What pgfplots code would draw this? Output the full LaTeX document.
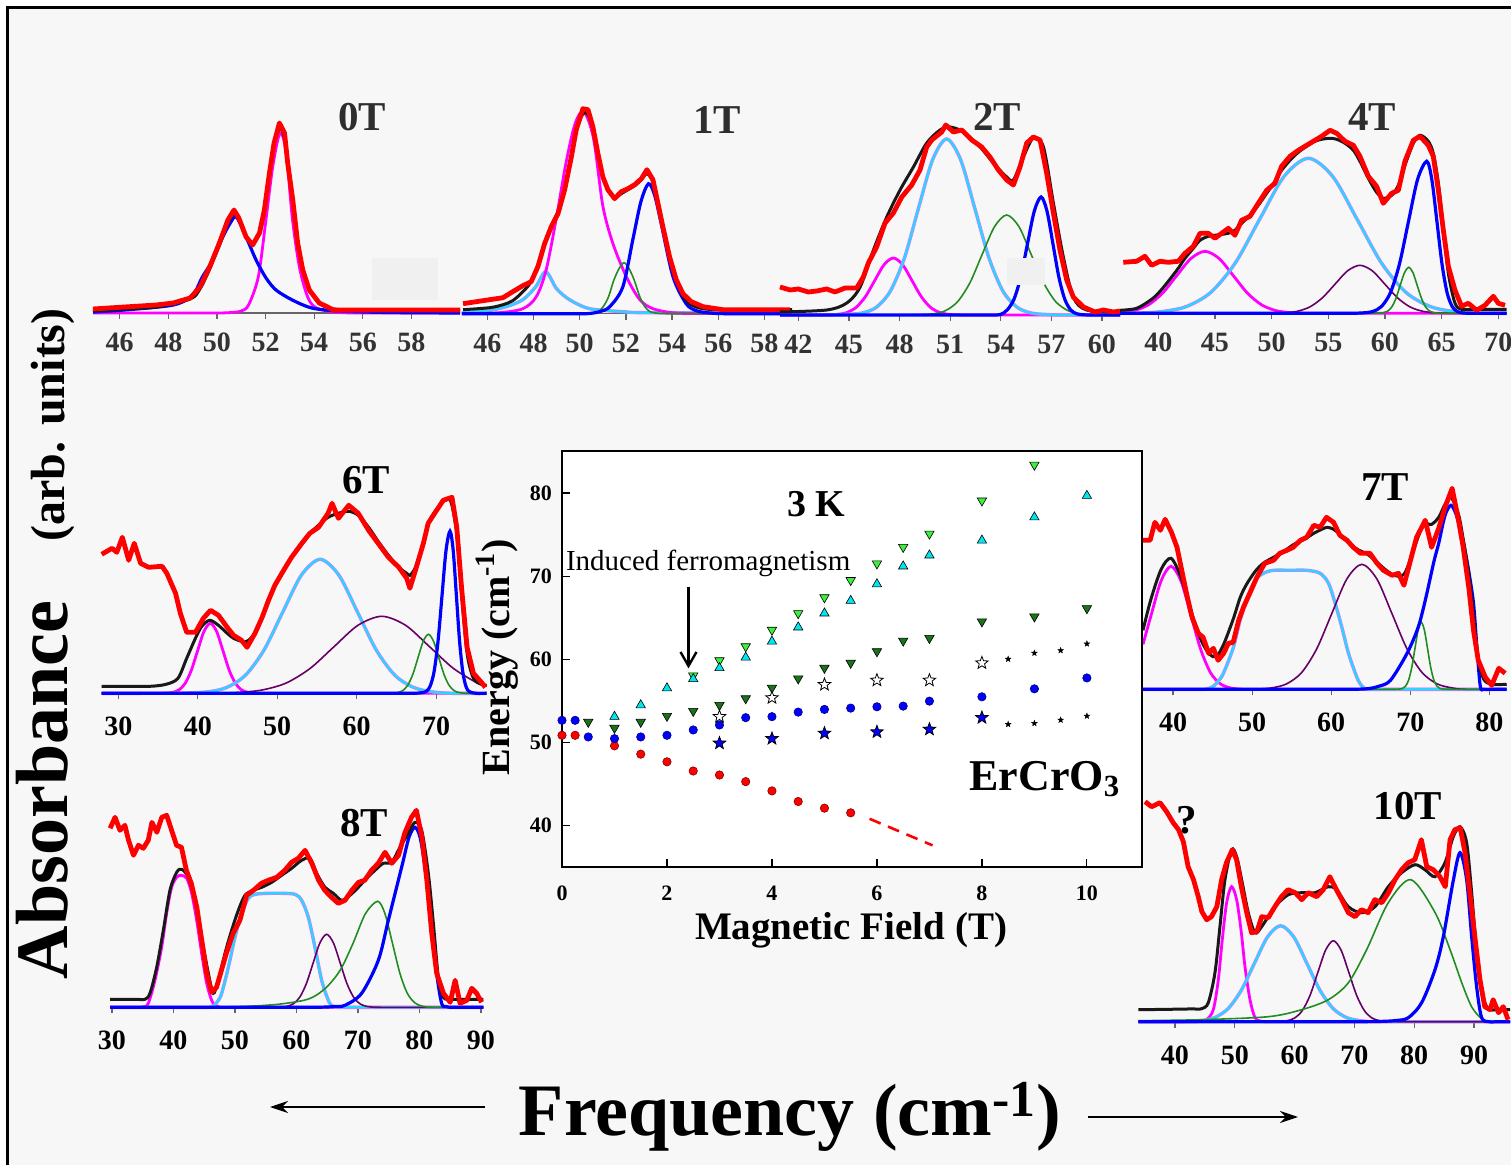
\documentclass[border=0pt]{standalone}
\usepackage{fontspec}
\setmainfont{Liberation Serif}
\usepackage{pgfplots}
\pgfplotsset{compat=1.18}
\usetikzlibrary{arrows.meta}

\definecolor{bg}{RGB}{247,247,247}
\definecolor{patch}{RGB}{240,240,240}
\definecolor{fgreen}{RGB}{34,139,34}
\definecolor{lgreen}{RGB}{60,240,60}
\definecolor{dgreen}{RGB}{25,115,25}
\definecolor{mag}{RGB}{255,0,255}
\definecolor{cya}{RGB}{40,215,255}
\definecolor{cyaedge}{RGB}{215,120,255}
\definecolor{cyatri}{RGB}{0,230,240}

% five-pointed star mark
\pgfdeclareplotmark{fstar}{%
  \pgfpathmoveto{\pgfpointpolar{90}{\pgfplotmarksize}}%
  \pgfpathlineto{\pgfpointpolar{126}{0.42\pgfplotmarksize}}%
  \pgfpathlineto{\pgfpointpolar{162}{\pgfplotmarksize}}%
  \pgfpathlineto{\pgfpointpolar{198}{0.42\pgfplotmarksize}}%
  \pgfpathlineto{\pgfpointpolar{234}{\pgfplotmarksize}}%
  \pgfpathlineto{\pgfpointpolar{270}{0.42\pgfplotmarksize}}%
  \pgfpathlineto{\pgfpointpolar{306}{\pgfplotmarksize}}%
  \pgfpathlineto{\pgfpointpolar{342}{0.42\pgfplotmarksize}}%
  \pgfpathlineto{\pgfpointpolar{18}{\pgfplotmarksize}}%
  \pgfpathlineto{\pgfpointpolar{54}{0.42\pgfplotmarksize}}%
  \pgfpathclose\pgfusepathqfillstroke}

\pgfplotsset{
  spec/.style={anchor=south west, scale only axis, width=#1, height=100pt,
    ymin=0, ymax=200, clip=false,
    axis x line=bottom, axis y line=none,
    axis line style={-, black!60, line width=0.7pt},
    tick align=outside, major tick length=3pt,
    tick style={black!60, line width=0.6pt},
    xticklabel shift=3.5pt,
    xticklabel style={font=\bfseries\fontsize{14}{14}\selectfont},
    /pgf/number format/assume math mode=true},
  dat/.style={red, line width=2.4pt, line join=round},
  tot/.style={black!90, line width=1.5pt, smooth},
  cmag/.style={mag, line width=1.4pt, smooth},
  cblu/.style={blue, line width=1.6pt, smooth},
  cgrn/.style={fgreen, line width=0.8pt, smooth},
  cpur/.style={violet!80!black, line width=0.8pt, smooth},
  ccya/.style={draw=cyaedge, double=cya, double distance=1.1pt, line width=0.3pt, smooth},
}
\tikzset{plab/.style={font=\bfseries\fontsize{20.5}{22}\selectfont}}

\begin{document}
\begin{tikzpicture}
\useasboundingbox (0,0) rectangle (755.5pt,-582.5pt);
\fill[white] (0,0) rectangle (755.5pt,-582.5pt);
\fill[bg] (3.75pt,-3.75pt) rectangle (755.5pt,-582.5pt);
\draw[line width=1.1pt] (3.75pt,-582.5pt) -- (3.75pt,-3.75pt) -- (755.5pt,-3.75pt);

% ---------------- 0T ----------------
\begin{axis}[spec=183.5pt, at={(46.5pt,-156.5pt)}, xmin=44.9, xmax=60.0,
  xtick={46,48,...,58}, xticklabel style={text=black!80}]
\addplot[cmag] coordinates {(44.9,0)(48,0)(50.0,0)(50.6,0.5)(51.0,2)(51.3,8)(51.7,36)(52.0,90)(52.3,147)(52.6,180)(52.85,160)(53.1,95)(53.4,45)(53.75,15)(54.1,5)(54.8,1)(55.6,0)(57,0)(60,0)};
\addplot[cblu] coordinates {(44.9,1)(46.2,3)(48.2,8)(49.0,18)(49.4,36)(49.83,53)(50.24,76)(50.55,90)(50.8,96)(51.2,76)(51.61,53)(52.02,35)(52.43,23)(53.1,13)(53.9,5)(55,2)(57,0.5)(60,0)};
\addplot[tot] coordinates {(44.9,2)(46.2,4)(47.5,6)(48.9,14)(49.3,24)(49.7,44)(50.1,68)(50.45,90)(50.7,99)(50.9,93)(51.2,76)(51.5,70)(51.75,80)(51.95,100)(52.15,137)(52.35,168)(52.6,185)(52.8,172)(52.95,145)(53.12,110)(53.32,72)(53.53,45)(53.8,24)(54.2,10)(54.8,4)(56,3)(60,3)};
\addplot[dat] coordinates {(44.9,4)(46.2,6)(47.5,8)(48.2,10)(48.9,15)(49.3,26)(49.7,46)(50.1,70)(50.45,93)(50.7,103)(50.9,95)(51.2,76)(51.47,68)(51.75,80)(51.95,103)(52.16,140)(52.35,170)(52.57,190)(52.78,180)(52.91,150)(53.12,113)(53.32,70)(53.53,43)(53.8,23)(54.21,10)(54.8,3)(55.7,3)(60,3)};
\end{axis}

% ---------------- 1T ----------------
\begin{axis}[spec=165.15pt, at={(230.95pt,-156.85pt)}, xmin=44.9, xmax=59.2,
  xtick={46,48,...,58}, xticklabel style={text=black!80}]
\addplot[ccya] coordinates {(44.9,1)(46,3)(46.82,7)(47.54,14)(48.1,27)(48.53,42)(49.0,25)(49.56,14)(50.43,5)(51.87,2)(53,1)(59.2,1)};
\addplot[cmag] coordinates {(44.9,0)(46.5,1)(47.54,5)(48.12,17)(48.55,44)(49.0,97)(49.4,150)(49.8,190)(50.18,202)(50.6,175)(51.0,108)(51.44,70)(52.02,37)(52.6,14)(53.17,5)(54,1)(55,0.2)(59.2,0)};
\addplot[cgrn] coordinates {(44.9,0)(48,0)(49.6,0)(50.2,0)(50.55,0.7)(50.8,2)(51.02,7)(51.25,17)(51.47,33)(51.7,45)(51.92,51)(52.14,45)(52.37,33)(52.6,17)(52.82,7)(53.05,2)(53.35,0.5)(53.7,0)(54.5,0)(56.5,0)(59.2,0)};
\addplot[cblu] coordinates {(44.9,0)(47.5,0)(49.3,0)(50.3,0)(50.86,2)(51.3,7)(51.87,27)(52.3,74)(52.65,112)(52.98,130)(53.25,118)(53.53,90)(54.04,37)(54.61,10)(55.05,3)(55.6,0.8)(56.3,0)(57.5,0)(59.2,0)};
\addplot[tot] coordinates {(44.95,4)(46.1,6)(46.68,9)(47.1,13)(47.54,22)(47.9,32)(48.19,48)(48.48,70)(48.77,88)(49.06,102)(49.35,124)(49.64,155)(49.85,182)(50.14,200)(50.36,199)(50.57,185)(50.79,160)(51.0,138)(51.22,124)(51.51,116)(51.8,120)(52.09,124)(52.38,128)(52.67,134)(52.91,140)(53.17,132)(53.39,112)(53.6,88)(53.89,58)(54.18,34)(54.47,18)(54.83,9)(55.34,5)(56.2,4)(59.2,4)};
\addplot[dat] coordinates {(44.95,10)(45.52,12)(46.1,14)(46.68,16)(47.1,22)(47.54,28)(47.9,32)(48.19,47)(48.48,70)(48.77,87)(49.06,100)(49.35,124)(49.64,157)(49.85,184)(50.14,205)(50.36,204)(50.57,187)(50.79,160)(51.0,137)(51.22,124)(51.51,115)(51.8,122)(52.09,125)(52.38,129)(52.67,135)(52.91,144)(53.17,134)(53.39,110)(53.6,87)(53.89,57)(54.18,34)(54.47,20)(54.83,12)(55.34,7)(56.2,4)(57.65,4)(59.1,4)};
\end{axis}

% ---------------- 2T ----------------
\begin{axis}[spec=170pt, at={(390pt,-157.5pt)}, xmin=40.91, xmax=61.07,
  xtick={42,45,...,60}, xticklabel style={text=black!80}]
\addplot[cmag] coordinates {(40.91,0)(42.5,0)(43.7,0.1)(44.33,0.6)(44.88,2.5)(45.43,7.7)(45.98,18.5)(46.53,34.6)(47.08,50.3)(47.63,57)(48.18,50.3)(48.73,34.6)(49.28,18.5)(49.83,7.7)(50.38,2.5)(50.93,0.6)(51.6,0.1)(52.5,0)(55,0)(61.07,0)};
\addplot[ccya] coordinates {(40.91,0)(42.5,0)(44,0.2)(45,0.8)(45.78,2)(46.62,7.7)(47.45,23.8)(48.29,57.1)(49.12,106.7)(49.96,155.3)(50.79,176)(51.62,155.3)(52.46,106.7)(53.3,57.1)(54.13,23.8)(54.97,7.7)(55.8,2)(56.6,0.6)(57.5,0)(59,0)(61.07,0)};
\addplot[cgrn] coordinates {(40.91,0)(45,0)(47.5,0)(48.8,0.2)(50.0,1.1)(50.73,4.4)(51.45,13.5)(52.18,32.5)(52.9,60.7)(53.63,88.3)(54.35,100)(55.08,88.3)(55.8,60.7)(56.53,32.5)(57.25,13.5)(57.98,4.4)(58.7,1.1)(59.4,0.3)(60.1,0)(61.07,0)};
\addplot[cblu] coordinates {(40.91,0)(47,0)(51,0)(52.8,0)(53.5,0)(53.99,0.5)(54.39,5.2)(54.79,16)(55.19,38.3)(55.59,71.6)(55.99,104)(56.39,118)(56.74,104)(57.09,71.6)(57.44,38.3)(57.79,16)(58.14,5.2)(58.49,1.3)(58.9,0.2)(59.4,0)(60.2,0)(61.07,0)};
\addplot[tot] coordinates {(40.91,3)(43.68,5)(44.87,12)(45.66,28)(46.45,65)(47.24,98)(48.03,125)(48.82,148)(49.61,172)(50.4,185)(50.99,188)(51.78,183)(52.77,168)(53.56,152)(54.35,138)(54.75,135)(55.34,158)(55.93,177)(56.53,168)(57.12,112)(57.71,58)(58.3,18)(59.09,5)(61.07,3)};
\addplot[dat] coordinates {(40.91,28)(41.51,25)(42.0,26)(42.59,23)(43.09,24)(43.68,26)(44.17,23)(44.77,27)(45.46,27)(45.85,38)(46.15,52)(46.64,68)(47.14,92)(47.63,102)(48.13,118)(48.72,130)(49.21,145)(49.61,168)(49.91,175)(50.5,183)(50.74,190)(51.19,183)(51.68,185)(52.28,175)(52.87,168)(53.36,158)(53.86,145)(54.35,135)(54.75,130)(55.14,148)(55.54,172)(55.93,178)(56.33,175)(56.72,142)(57.12,102)(57.51,65)(57.91,35)(58.3,18)(58.9,8)(59.59,3)(60.08,5)(60.68,3)(61.07,4)};
\end{axis}

% ---------------- 4T ----------------
\begin{axis}[spec=193.35pt, at={(560pt,-156.65pt)}, xmin=36.62, xmax=70.74,
  xtick={40,45,...,70}, xticklabel style={text=black!80}]
\addplot[cmag] coordinates {(36.62,0.7)(37.87,2.7)(39.12,8.4)(40.37,20.1)(41.62,37.6)(42.87,54.7)(44.12,62)(45.37,54.7)(46.62,37.6)(47.87,20.1)(49.12,8.4)(50.37,2.7)(51.62,0.7)(52.9,0.1)(54.5,0)(58,0)(63,0)(70.74,0)};
\addplot[ccya] coordinates {(36.62,0)(38.5,0.3)(40.34,1.7)(42.49,6.8)(44.64,21)(46.79,50.3)(48.94,94)(51.09,136.8)(53.24,155)(55.39,136.8)(57.54,94)(59.69,50.3)(61.84,21)(63.99,6.8)(66.14,1.7)(68.5,0)(70.74,0)};
\addplot[cpur] coordinates {(36.62,0)(44,0)(47.5,0)(49.5,0)(51.19,0.5)(52.29,2.1)(53.39,6.5)(54.49,15.6)(55.59,29.1)(56.69,42.4)(57.79,48)(58.89,42.4)(59.99,29.1)(61.09,15.6)(62.19,6.5)(63.29,2.1)(64.39,0.5)(65.5,0)(67.5,0)(70.74,0)};
\addplot[cgrn] coordinates {(36.62,0)(50,0)(56,0)(58.2,0)(59.2,0.1)(59.84,0.5)(60.22,2)(60.59,6.2)(60.97,15)(61.34,27.9)(61.72,40.6)(62.09,46)(62.47,40.6)(62.84,27.9)(63.22,15)(63.59,6.2)(63.97,2)(64.34,0.5)(64.9,0.1)(65.8,0)(67.5,0)(70.74,0)};
\addplot[cblu] coordinates {(36.62,0)(48,0)(54,0)(56.5,0)(57.9,0.3)(58.88,1.7)(59.68,6.7)(60.48,20.6)(61.28,49.4)(62.08,92.2)(62.88,134)(63.68,152)(64.13,134)(64.58,92.2)(65.03,49.4)(65.48,20.6)(65.93,6.7)(66.38,1.7)(66.9,0.3)(67.6,0)(69,0)(70.74,0)};
\addplot[tot] coordinates {(36.62,3)(38.09,5)(39.41,14)(40.15,22)(40.88,32)(41.76,45)(42.35,55)(43.09,65)(43.68,73)(44.41,77)(45.0,78)(45.59,79)(46.18,80)(46.76,83)(47.35,90)(48.09,98)(48.82,108)(49.56,120)(50.29,132)(50.88,143)(51.62,153)(52.35,161)(53.09,167)(53.82,172)(54.41,174)(55.15,175)(55.74,174)(56.47,170)(57.21,163)(57.79,152)(58.53,135)(59.26,121)(59.85,115)(60.59,118)(61.18,128)(61.76,148)(62.5,170)(63.09,178)(63.82,172)(64.26,160)(64.71,130)(65.15,85)(65.59,40)(66.18,10)(66.76,4)(68,4)(70.74,4)};
\addplot[dat] coordinates {(36.91,51)(38.09,52)(38.82,57)(39.41,48)(40.15,52)(40.88,51)(41.76,52)(42.35,60)(43.09,67)(43.68,80)(44.41,80)(45.0,75)(45.59,80)(46.18,85)(46.76,78)(47.35,93)(48.09,97)(48.82,110)(49.56,123)(50.29,130)(50.88,147)(51.62,157)(52.35,163)(53.09,168)(53.82,173)(54.41,177)(55.15,183)(55.74,180)(56.47,172)(57.21,168)(57.79,157)(58.53,137)(59.26,127)(59.85,110)(60.59,120)(61.18,123)(61.76,152)(62.5,173)(63.09,177)(63.82,168)(64.26,157)(64.71,123)(65.15,83)(65.59,47)(66.18,23)(66.76,7)(67.35,10)(68.09,3)(68.82,8)(69.56,17)(70.0,10)(70.59,8)};
\end{axis}

% ---------------- 6T ----------------
\begin{axis}[spec=192.5pt, at={(50.85pt,-346.65pt)}, xmin=27.9, xmax=76.37,
  xtick={30,40,...,70}, xticklabel shift=5.5pt]
\addplot[cmag] coordinates {(27.9,0)(32,0)(34.5,0)(35.8,0.2)(36.77,0.8)(37.57,3.1)(38.37,9.5)(39.17,22.7)(39.97,42.5)(40.77,61.8)(41.57,70)(42.37,61.8)(43.17,42.5)(43.97,22.7)(44.77,9.5)(45.57,3.1)(46.37,0.8)(47.3,0.2)(48.5,0)(51,0)(56,0)(76.37,0)};
\addplot[ccya] coordinates {(27.9,0)(33,0)(38,0.2)(41.3,1.5)(43.65,5.9)(46.0,18.1)(48.35,43.5)(50.7,81.3)(53.05,118.3)(55.4,134)(57.75,118.3)(60.1,81.3)(62.45,43.5)(64.8,18.1)(67.15,5.9)(69.5,1.5)(72,0)(76.37,0)};
\addplot[cpur] coordinates {(27.9,0)(36,0)(42,0.2)(45.16,0.9)(48.16,3.4)(51.16,10.4)(54.16,25)(57.16,46.7)(60.16,68)(63.16,77)(66.16,68)(69.16,46.7)(72.16,25)(75.16,10.4)(76.37,7.5)};
\addplot[cgrn] coordinates {(27.9,0)(50,0)(58,0)(62,0)(64.2,0.1)(65.13,0.7)(65.78,2.6)(66.43,8)(67.08,19.2)(67.73,35.8)(68.38,52)(69.03,59)(69.68,52)(70.33,35.8)(70.98,19.2)(71.63,8)(72.28,2.6)(72.93,0.7)(74,0)(76.37,0)};
\addplot[cblu] coordinates {(27.9,0)(50,0)(60,0)(64.5,0)(67,0)(68.1,0.5)(68.75,1.8)(69.25,7.1)(69.75,21.9)(70.25,52.6)(70.75,98.3)(71.25,143)(71.75,162)(72.15,143)(72.55,98.3)(72.95,52.6)(73.35,21.9)(73.75,7.1)(74.15,1.8)(75,0)(76.37,0)};
\addplot[tot] coordinates {(27.9,7)(31,7)(34,7)(36,9)(37.5,15)(38.6,35)(39.7,55)(40.5,67)(41.5,73)(42.6,68)(43.7,60)(44.5,55)(45.5,52)(46.2,52)(47.2,60)(48.1,76)(48.9,92)(49.7,108)(50.8,122)(51.8,136)(53.1,150)(54.1,160)(55.2,168)(56.4,176)(57.7,180)(59.0,182)(60.2,178)(61.5,166)(62.7,152)(64.0,138)(65.3,126)(66.3,120)(66.7,118)(67.4,126)(68.4,150)(69.0,170)(69.9,182)(70.9,192)(71.8,193)(72.6,160)(73.2,100)(73.9,40)(74.7,15)(75.7,9)(76.37,8)};
\addplot[dat] coordinates {(27.9,139)(29.2,145)(29.8,141)(30.5,156)(31.3,133)(32.0,150)(32.8,130)(33.8,126)(35.5,127)(36.1,120)(37.2,100)(37.8,80)(38.6,61)(39.7,61)(40.7,75)(41.6,83)(42.6,78)(43.7,66)(44.5,58)(45.5,53)(46.2,46)(47.2,60)(48.1,76)(48.9,93)(49.7,108)(50.8,123)(51.8,136)(53.1,150)(54.1,160)(55.2,166)(56.4,180)(56.9,190)(57.7,175)(59.0,188)(60.2,180)(61.5,163)(62.7,150)(64.0,136)(65.3,126)(66.3,115)(66.7,105)(67.4,123)(68.4,150)(69.0,170)(69.9,181)(70.9,193)(72.0,196)(72.6,166)(73.2,106)(73.9,46)(74.7,20)(75.7,11)(76.2,6)};
\end{axis}

% ---------------- 7T ----------------
\begin{axis}[spec=181.85pt, at={(571.5pt,-344.65pt)}, xmin=36.2, xmax=82.2,
  xtick={40,50,...,80}, xticklabel shift=5.5pt]
\addplot[cmag] coordinates {(36.2,45)(37.24,74.6)(38.49,108.5)(39.74,123)(40.99,108.5)(42.24,74.6)(43.49,40)(44.74,16.6)(45.99,5.4)(47.24,1.4)(48.5,0.2)(50,0)(55,0)(82.2,0)};
\addplot[ccya] coordinates {(36.2,0)(40,0)(42.5,0)(44.0,0)(44.9,2)(45.6,7)(46.37,16)(47.63,42)(48.48,69)(49.32,89)(50.38,109)(51.43,116)(52.7,119)(54.81,119)(56.92,119)(58.6,116)(59.66,106)(60.5,86)(61.35,62)(62.19,36)(63.25,12)(63.9,3)(64.6,0)(65.8,0)(70,0)(82.2,0)};
\addplot[cpur] coordinates {(36.2,0)(44,0)(48,0)(50.5,0.2)(52.48,1.4)(54.38,5.5)(56.28,16.9)(58.18,40.6)(60.08,75.8)(61.98,110.3)(63.88,125)(65.78,110.3)(67.68,75.8)(69.58,40.6)(71.48,16.9)(73.38,5.5)(75.28,1.4)(77,0)(82.2,0)};
\addplot[cgrn] coordinates {(36.2,0)(55,0)(63,0)(66.5,0)(68.2,0.1)(69.0,0.7)(69.39,3)(69.79,9.1)(70.19,21.8)(70.59,40.6)(70.99,59.1)(71.39,67)(71.79,59.1)(72.19,40.6)(72.59,21.8)(72.99,9.1)(73.39,3)(73.79,0.7)(74.5,0.1)(75.5,0)(77.5,0)(82.2,0)};
\addplot[cblu] coordinates {(36.2,0)(50,0)(58,0)(62,0)(64.5,0.5)(66,3)(67.5,9)(69.6,36)(71.0,62)(71.9,89)(73.0,128)(73.6,146)(74.4,174)(75.15,184)(75.8,175)(76.4,158)(76.75,146)(77.38,119)(78.0,86)(78.43,42)(78.86,3)(79.3,0)(80.2,0)(82.2,0)};
\addplot[tot] coordinates {(36.2,59)(37.2,90)(38.5,120)(39.74,131)(41.0,112)(42.2,80)(43.5,50)(44.6,35)(45.5,33)(46.4,45)(47.6,70)(48.5,92)(49.3,105)(50.4,118)(51.4,126)(52.7,132)(54.0,138)(55.3,145)(56.6,150)(57.8,156)(58.8,160)(59.5,162)(60.3,160)(61.1,155)(62.0,148)(63.3,140)(64.6,135)(65.8,127)(66.8,120)(67.7,115)(68.5,113)(69.2,115)(69.8,125)(70.8,148)(71.7,165)(72.7,165)(73.6,172)(74.4,185)(75.15,192)(76.1,175)(76.7,150)(77.4,115)(78.0,75)(78.6,30)(79.3,10)(80.3,5)(82.2,5)};
\addplot[dat] coordinates {(36.2,149)(37.1,149)(37.7,167)(38.4,159)(39.0,170)(39.8,157)(40.5,142)(41.1,119)(41.7,96)(42.4,72)(43.2,56)(43.8,52)(44.5,36)(45.1,41)(45.7,29)(46.4,36)(47.0,46)(47.6,47)(48.3,69)(48.9,82)(49.7,96)(50.6,112)(51.6,126)(52.7,129)(53.5,136)(54.4,139)(55.2,142)(56.1,149)(56.9,152)(57.8,164)(58.6,162)(59.4,172)(60.3,167)(61.1,154)(62.0,149)(62.8,142)(63.7,136)(64.9,136)(65.8,126)(66.6,119)(67.7,114)(68.5,116)(69.2,104)(69.8,122)(70.8,152)(71.9,169)(72.7,142)(73.6,161)(74.4,182)(75.3,201)(76.1,169)(76.7,142)(77.4,102)(78.0,59)(78.6,29)(79.5,12)(80.3,4)(81.2,21)(82.0,16)};
\end{axis}

% ---------------- 8T ----------------
\begin{axis}[spec=186.65pt, at={(55pt,-503.65pt)}, xmin=29.68, xmax=90.38,
  xtick={30,40,...,90}, xticklabel shift=5.5pt]
\addplot[cmag] coordinates {(29.68,0)(32.5,0)(34.2,0)(35.1,0.5)(35.91,4)(36.99,27)(38.08,60)(38.89,94)(39.7,120)(40.52,130)(41.22,132)(42.15,129)(42.96,114)(43.77,87)(44.58,54)(45.4,24)(46.21,7)(46.75,2)(47.4,0.3)(48.2,0)(50,0)(55,0)(90.38,0)};
\addplot[ccya] coordinates {(29.68,0)(40,0)(44,0)(45.8,0)(46.6,2)(47.3,7)(47.84,14)(48.92,40)(50.0,70)(51.09,94)(52.17,109)(53.26,113)(55.42,114)(57.59,114)(59.76,113)(60.84,107)(61.93,90)(63.01,60)(64.1,27)(65.18,7)(65.8,1.5)(66.5,0)(67.5,0)(72,0)(90.38,0)};
\addplot[cpur] coordinates {(29.68,0)(45,0)(52,0)(55.5,0)(57.2,0.2)(58.31,0.8)(59.41,3.2)(60.51,9.9)(61.61,23.7)(62.71,44.3)(63.81,64.4)(64.91,73)(66.01,64.4)(67.11,44.3)(68.21,23.7)(69.31,9.9)(70.41,3.2)(71.51,0.8)(72.7,0.1)(74,0)(78,0)(90.38,0)};
\addplot[cgrn] coordinates {(29.68,0)(40,0)(45,0)(52,1)(57,3)(61.2,7)(63.2,12)(65.2,22)(67.2,38)(69.2,64)(71.2,93.5)(73.2,106)(74.4,93.5)(75.6,64.3)(76.8,34.4)(78.0,14.3)(79.2,4.7)(80.4,1.2)(82,0)(85,0)(90.38,0)};
\addplot[cblu] coordinates {(29.68,0)(50,0)(58,0)(62,0)(64.5,0.2)(66.3,0.8)(67.89,2)(70.6,14)(73.31,47)(74.94,87)(77.1,140)(78.3,170)(79.27,180)(80.1,170)(80.9,140)(81.98,87)(82.8,34)(83.6,4)(84.3,0.8)(85.1,0)(86.5,0)(90.38,0)};
\addplot[tot] coordinates {(29.68,8)(32,8)(34,8)(35.37,8)(36.18,14)(37.27,40)(38.35,77)(39.43,117)(40.52,135)(41.33,138)(42.42,130)(43.5,107)(44.58,70)(45.67,34)(46.48,14)(47.29,27)(48.38,54)(49.46,77)(50.55,97)(51.63,112)(52.99,117)(54.34,120)(55.97,125)(57.59,132)(59.22,139)(60.84,147)(62.2,149)(63.28,134)(64.64,120)(65.99,114)(67.35,107)(68.7,112)(70.06,120)(71.41,129)(72.77,137)(74.12,144)(75.48,145)(76.83,160)(78.19,174)(79.27,185)(80.36,177)(81.44,134)(82.26,84)(83.07,30)(83.88,10)(85.23,8)(87,8)(90.38,8)};
\addplot[dat] coordinates {(29.7,179)(30.5,190)(31.3,177)(32.1,182)(32.7,167)(33.5,152)(34.3,162)(35.1,159)(35.9,167)(36.5,185)(37.3,175)(38.1,190)(38.9,192)(39.7,177)(40.5,162)(41.3,160)(42.1,137)(42.9,124)(43.8,100)(44.6,67)(45.4,34)(46.2,15)(47.0,20)(47.8,37)(48.6,54)(49.7,74)(50.8,87)(51.9,112)(53.0,117)(54.3,124)(55.4,127)(56.8,130)(58.1,137)(59.2,145)(60.3,149)(61.4,157)(62.5,144)(63.6,127)(64.6,117)(65.7,110)(66.8,104)(67.9,107)(69.0,117)(70.1,125)(71.1,127)(72.2,137)(73.3,144)(74.4,155)(75.5,144)(76.6,152)(77.6,174)(78.7,190)(79.5,197)(80.4,170)(81.2,127)(82.0,74)(82.8,34)(83.9,14)(85.0,5)(85.8,27)(86.6,4)(87.7,7)(88.5,19)(89.3,14)(90.1,5)};
\end{axis}

% ---------------- 10T ----------------
\begin{axis}[spec=185.85pt, at={(569.15pt,-510.85pt)}, xmin=33.87, xmax=96.02,
  xtick={40,50,...,90}, xticklabel shift=5.5pt]
\addplot[cmag] coordinates {(33.87,0)(38,0)(41,0)(43,0)(44.3,0.3)(45.3,2)(46.41,12)(47.25,42)(47.91,82)(48.64,119)(49.47,135)(50.31,122)(51.04,92)(51.71,55)(52.54,22)(53.38,4)(54.2,0.8)(55.1,0)(57,0)(62,0)(96.02,0)};
\addplot[ccya] coordinates {(33.87,0)(38,0)(42,0.2)(44.47,1.1)(46.67,4.2)(48.87,13)(51.07,31.2)(53.27,58.2)(55.47,84.7)(57.67,96)(59.87,84.7)(62.07,58.2)(64.27,31.2)(66.47,13)(68.67,4.2)(70.87,1.1)(73,0)(76,0)(82,0)(96.02,0)};
\addplot[cpur] coordinates {(33.87,0)(45,0)(51,0)(54.5,0)(56.8,0.2)(58.68,0.9)(59.98,3.6)(61.28,11)(62.58,26.3)(63.88,49.1)(65.18,71.5)(66.48,81)(67.78,71.5)(69.08,49.1)(70.38,26.3)(71.68,11)(72.98,3.6)(74.28,0.9)(75.8,0.1)(77.5,0)(82,0)(96.02,0)};
\addplot[cgrn] coordinates {(33.87,1)(44.4,2)(55.6,5)(61.18,12)(65.64,22)(69.0,39)(72.05,72)(75.67,119)(79.46,142)(83.5,109)(86.0,72)(87.95,39)(89.6,15)(91.3,3)(93,0)(96.02,0)};
\addplot[cblu] coordinates {(33.87,0)(55,0)(65,0)(71,0)(74.5,0.3)(77,1.2)(79.02,4)(81.25,19)(83.48,52)(84.87,85)(86.5,140)(87.66,169)(88.77,142)(89.61,85)(90.44,35)(91.28,4)(92.5,0)(94,0)(96.02,0)};
\addplot[tot] coordinates {(33.87,12)(38,12.3)(41,12.6)(43,12.8)(44.46,13)(45.57,19)(46.69,49)(47.52,95)(48.36,142)(49.47,172)(50.31,165)(51.15,142)(52.26,109)(53.38,89)(54.49,95)(56.72,115)(58.95,127)(61.18,129)(63.41,129)(65.64,135)(67.03,132)(68.98,115)(71.21,109)(73.44,115)(75.67,135)(77.9,149)(80.13,157)(81.8,152)(83.48,145)(85.15,159)(86.54,185)(87.66,195)(88.77,179)(89.61,129)(90.44,69)(91.28,29)(92.4,13)(94,12)(96.02,12)};
\addplot[dat] coordinates {(35.0,220)(36.1,215)(37.5,219)(38.6,210)(39.7,199)(40.6,192)(41.4,180)(42.2,155)(43.1,142)(43.9,125)(44.5,110)(45.3,102)(46.1,105)(47.0,115)(47.8,142)(48.6,159)(49.6,172)(50.3,162)(51.1,135)(52.0,109)(52.8,89)(53.7,90)(54.5,105)(55.6,104)(56.7,115)(57.8,125)(58.9,132)(60.1,129)(61.2,122)(62.3,129)(63.7,125)(64.8,132)(65.9,145)(67.0,132)(67.9,122)(69.0,109)(70.1,105)(71.2,112)(72.3,109)(73.4,122)(74.6,119)(75.7,129)(76.8,142)(77.9,152)(79.0,159)(80.1,162)(81.2,182)(82.1,155)(83.2,152)(84.3,145)(85.2,135)(86.0,182)(86.8,192)(87.7,194)(88.5,169)(89.3,129)(90.2,82)(91.0,42)(91.8,15)(92.7,12)(93.2,22)(94.1,9)(94.9,15)(95.7,2)};
\end{axis}

% ---------------- inset ----------------
\begin{axis}[anchor=south west, at={(281pt,-433.5pt)}, scale only axis,
  width=290pt, height=208pt, xmin=0, xmax=11.05, ymin=35, ymax=85.06,
  clip=false, axis background/.style={fill=white},
  axis line style={line width=0.8pt},
  xtick={0,2,...,10}, ytick={40,50,...,80},
  xtick pos=left, ytick pos=left, tick align=inside,
  major tick length=4pt, tick style={black, line width=0.6pt},
  xticklabel shift=6pt, yticklabel shift=1.5pt,
  ticklabel style={font=\bfseries\fontsize{11}{11}\selectfont},
  /pgf/number format/assume math mode=true]
\addplot[red, line width=1.3pt, dash pattern=on 6pt off 4pt] coordinates {(5.86,40.8)(7.06,37.6)};
\addplot[only marks, mark=*, mark size=2.1pt, mark options={fill=red, draw=red!50!black, line width=0.3pt}]
  coordinates {(0,50.85)(0.25,50.85)(1,49.58)(1.5,48.58)(2,47.66)(2.5,46.55)(3,46.07)(3.5,45.27)(4,44.16)(4.5,42.88)(5,42.08)(5.5,41.52)};
\addplot[only marks, mark=*, mark size=2.1pt, mark options={fill=blue, draw=blue!50!black, line width=0.3pt}]
  coordinates {(0,52.65)(0.25,52.65)(0.5,50.65)(1,50.45)(1.5,50.65)(2,50.85)(2.5,51.49)(3,52.09)(3.5,52.97)(4,53.09)(4.5,53.64)(5,53.96)(5.5,54.12)(6,54.28)(6.5,54.36)(7,54.96)(8,55.48)(9,56.44)(10,57.75)};
\addplot[only marks, mark=triangle*, mark size=2.7pt, mark options={rotate=180, fill=dgreen, draw=black, line width=0.3pt}]
  coordinates {(0.5,52.45)(1,51.73)(1.5,52.45)(2,53.17)(2.5,53.76)(3,54.48)(3.5,55.28)(4,56.56)(4.5,57.67)(5,58.95)(5.5,59.55)(6,60.94)(6.5,62.22)(7,62.54)(8,64.53)(9,65.13)(10,66.12)};
\addplot[only marks, mark=triangle*, mark size=2.7pt, mark options={rotate=180, fill=lgreen, draw=black, line width=0.3pt}]
  coordinates {(2.5,58.03)(3,59.86)(3.5,61.54)(4,63.53)(4.5,65.53)(5,67.44)(5.5,69.51)(6,71.51)(6.5,73.5)(7,75.1)(8,79.08)(9,83.39)};
\addplot[only marks, mark=triangle*, mark size=2.7pt, mark options={fill=cyatri, draw=black, line width=0.3pt}]
  coordinates {(1,53.09)(1.5,54.48)(2,56.52)(2.5,57.63)(3,58.95)(3.5,60.22)(4,62.14)(4.5,63.85)(5,65.53)(5.5,67.04)(6,69.04)(6.5,71.19)(7,72.51)(8,74.3)(9,77.09)(10,79.68)};
\addplot[only marks, mark=fstar, mark size=3.3pt, mark options={fill=white, draw=black, line width=0.4pt}]
  coordinates {(3,53.09)(4,55.36)(5,56.95)(6,57.47)(7,57.47)(8,59.55)};
\addplot[only marks, mark=fstar, mark size=3.3pt, mark options={fill=blue, draw=black, line width=0.4pt}]
  coordinates {(3,49.9)(4,50.45)(5,51.09)(6,51.25)(7,51.57)(8,52.97)};
\addplot[only marks, mark=fstar, mark size=1.5pt, mark options={fill=black, draw=black, line width=0.2pt}]
  coordinates {(8.5,60.02)(9,60.74)(9.5,61.06)(10,61.86)(8.5,52.17)(9,52.29)(9.5,52.69)(10,53.17)};
\node[font=\bfseries\fontsize{19}{20}\selectfont] at (axis cs:4.84,78.7) {3 K};
\node[anchor=west, font=\fontsize{14.5}{16}\selectfont, inner sep=0pt] at (axis cs:0.07,71.54) {Induced ferromagnetism};
\draw[-{Straight Barb[length=7pt,width=8pt]}, line width=1.2pt] (axis cs:2.41,68.7) -- (axis cs:2.41,58.9);
\node[font=\bfseries\fontsize{22}{24}\selectfont] at (axis cs:9.2,45.6) {ErCrO\textsubscript{3}};
\end{axis}

% inset axis labels
\node[font=\bfseries\fontsize{19.5}{22}\selectfont] at (425.5pt,-465pt) {Magnetic Field (T)};
\node[rotate=90, font=\bfseries\fontsize{20}{22}\selectfont] at (248.5pt,-328.5pt) {Energy (cm\textsuperscript{-1})};

% small grey patches
\fill[patch] (186pt,-129pt) rectangle (219pt,-150pt);
\fill[patch] (503.5pt,-129pt) rectangle (522.5pt,-142.5pt);

% panel labels
\node[plab, text=black!82] at (181pt,-58.5pt) {0T};
\node[plab, text=black!82] at (358.5pt,-60pt) {1T};
\node[plab, text=black!82] at (498.5pt,-58.5pt) {2T};
\node[plab, text=black!82] at (686pt,-58.5pt) {4T};
\node[plab] at (183pt,-240pt) {6T};
\node[plab] at (692.5pt,-243.5pt) {7T};
\node[plab] at (182pt,-411.5pt) {8T};
\node[plab] at (704pt,-403pt) {10T};
\node[plab] at (593.5pt,-410pt) {?};

% global labels
\node[rotate=90, font=\bfseries\fontsize{37}{40}\selectfont] at (21pt,-395pt) {Absorbance};
\node[rotate=90, font=\bfseries\fontsize{24}{26}\selectfont] at (26.5pt,-212.5pt) {(arb. units)};
\node[anchor=base, font=\bfseries\fontsize{37}{40}\selectfont] at (395pt,-567.5pt) {Frequency (cm\textsuperscript{-1})};
\draw[-{Stealth[length=9pt,width=6pt]}, line width=1pt] (242.5pt,-553.5pt) -- (135pt,-553.5pt);
\draw[-{Stealth[length=9pt,width=6pt]}, line width=1pt] (544pt,-558.5pt) -- (649pt,-558.5pt);
\end{tikzpicture}
\end{document}
